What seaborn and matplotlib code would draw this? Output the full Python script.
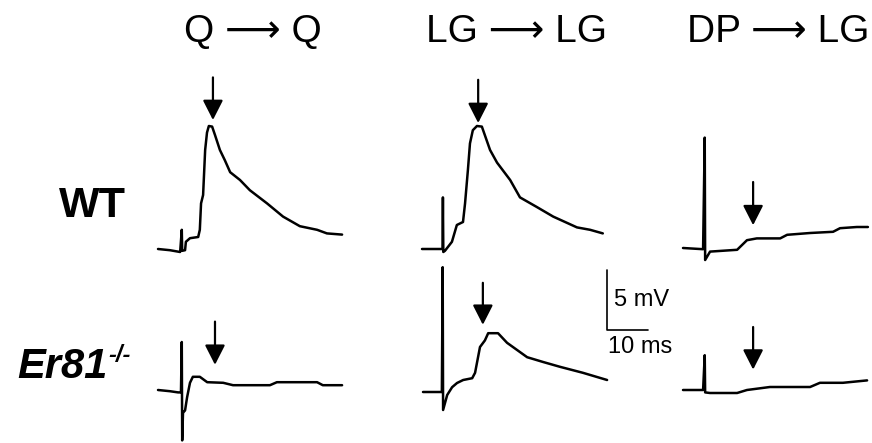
import matplotlib
matplotlib.use("Agg")
import matplotlib.pyplot as plt
import pandas as pd
import seaborn as sns

sns.set_theme(style="white")
plt.rcParams['font.family'] = ['Liberation Sans', 'DejaVu Sans']
plt.rcParams['text.color'] = 'black'

# Recorded traces: time (ms) and membrane potential (mV), relative to each trace's baseline start
qq_wt_t = [0, 2.9, 5.4, 5.8, 5.9, 6.6, 6.8, 7.8, 9.8, 10.2, 10.5, 11.0, 11.5, 11.95, 12.4, 13.2,
           13.9, 15.1, 16.3, 17.6, 20.0, 22.4, 26.6, 30.5, 34.6, 38.8, 41.2, 44.9]
qq_wt_v = [0, -0.1, -0.25, 1.6, -0.15, -0.1, 0.6, 0.9, 1.0, 1.6, 3.8, 4.5, 8.25, 9.7, 10.25, 10.2,
           9.5, 8.25, 7.4, 6.4, 5.75, 4.9, 3.8, 2.7, 1.9, 1.6, 1.3, 1.2]

qq_ko_t = [0, 2.9, 4.9, 5.6, 5.8, 5.9, 6.1, 6.6, 7.1, 7.8, 8.5, 10.2, 12.0, 15.9, 18.3, 27.3,
           29.0, 38.8, 40.2, 44.9]
qq_ko_v = [0, -0.1, -0.2, -0.2, 4.0, -4.2, -1.9, -1.7, -0.6, 0.6, 1.1, 1.1, 0.65, 0.6, 0.4, 0.4,
           0.65, 0.65, 0.4, 0.4]

lg_wt_t = [0, 5.0, 5.1, 5.2, 5.6, 7.3, 8.5, 10.0, 10.5, 11.2, 11.7, 12.4, 13.4, 14.6, 16.6, 18.3,
           21.5, 23.9, 28.0, 32.0, 37.8, 41.0, 44.1]
lg_wt_v = [0, 0, 4.3, -0.25, -0.15, 0.6, 2.0, 2.25, 3.8, 6.6, 8.8, 9.9, 10.25, 10.2, 8.25, 7.2,
           5.75, 4.3, 3.5, 2.7, 1.8, 1.6, 1.3]

lg_ko_t = [0, 4.6, 4.8, 4.9, 5.9, 7.1, 8.3, 9.8, 12.0, 12.7, 13.9, 15.1, 15.9, 18.3, 20.5, 25.4,
           29.3, 33.4, 39.0, 44.9]
lg_ko_v = [0, 0, 10.4, -1.5, -0.25, 0.4, 0.75, 1.0, 1.15, 1.6, 3.75, 4.3, 4.9, 4.9, 4.1, 2.9,
           2.5, 2.1, 1.6, 1.0]

dp_wt_t = [0, 4.9, 5.3, 5.4, 6.6, 13.2, 15.6, 18.0, 23.7, 25.4, 31.0, 36.6, 38.3, 42.4, 45.1]
dp_wt_v = [0, -0.1, 9.2, -1.0, -0.3, -0.15, 0.65, 0.8, 0.8, 1.1, 1.25, 1.35, 1.65, 1.75, 1.75]

dp_ko_t = [0, 4.9, 5.3, 5.4, 6.6, 13.2, 15.6, 21.2, 31.0, 33.4, 39.0, 44.9]
dp_ko_v = [0, 0, 2.9, -0.2, -0.25, -0.25, 0, 0.25, 0.25, 0.6, 0.6, 0.8]

# Arrow markers: time (ms), tip and tail (mV)
arrow_t = [13.4, 13.9, 13.7, 14.6, 17.1, 17.1]
arrow_tip = [10.75, 2.1, 10.5, 5.6, 1.9, 1.7]
arrow_top = [14.3, 5.7, 14.1, 9.1, 5.5, 5.25]

columns = ['Q \u27f6 Q', 'LG \u27f6 LG', 'DP \u27f6 LG']
rows = ['WT', 'Er81']
scale_mv = 5
scale_ms = 10

# Layout (pixels in the 872x443 figure)
W, H = 872, 443
PX_MS, PX_MV = 4.1, 12.0
origins = [(158, 249), (158, 390), (422, 249), (423, 392), (683, 248), (683, 390)]
traces = [(qq_wt_t, qq_wt_v), (qq_ko_t, qq_ko_v), (lg_wt_t, lg_wt_v),
          (lg_ko_t, lg_ko_v), (dp_wt_t, dp_wt_v), (dp_ko_t, dp_ko_v)]

fig = plt.figure(figsize=(W / 100, H / 100), dpi=100)
ax = fig.add_axes([0, 0, 1, 1])
ax.set_xlim(0, W / PX_MS)
ax.set_ylim(0, H / PX_MV)
ax.axis('off')

for i, ((t, v), (px, py)) in enumerate(zip(traces, origins)):
    ox, oy = px / PX_MS, (H - py) / PX_MV
    df = pd.DataFrame({'t': [x + ox for x in t], 'v': [y + oy for y in v]})
    sns.lineplot(data=df, x='t', y='v', ax=ax, color='black', lw=1.8,
                 sort=False, estimator=None, legend=False)
    ax.annotate('', xy=(arrow_t[i] + ox, arrow_tip[i] + oy),
                xytext=(arrow_t[i] + ox, arrow_top[i] + oy),
                arrowprops=dict(arrowstyle='-|>,head_length=0.55,head_width=0.28',
                                color='black', lw=1.6, shrinkA=0, shrinkB=0,
                                mutation_scale=22))

# scale bar
sx, sy = 607 / PX_MS, (H - 330) / PX_MV
ax.plot([sx, sx, sx + scale_ms], [sy + scale_mv, sy, sy], color='black', lw=1.2)
ax.text(sx + 1.6, sy + scale_mv / 2, f'{scale_mv} mV', fontsize=17, va='center', ha='left')
ax.text(sx + 0.2, sy - 1.4, f'{scale_ms} ms', fontsize=17, va='center', ha='left')

# column titles
for label, cx in zip(columns, [253, 517, 778]):
    fig.text(cx / W, 1 - 32 / H, label, fontsize=28, ha='center', va='center')

# row labels
fig.text(92 / W, 1 - 206 / H, rows[0], fontsize=31, fontweight='bold', ha='center', va='center')
ko = fig.text(17 / W, 1 - 378 / H, rows[1], fontsize=30, fontweight='bold',
              fontstyle='italic', ha='left', va='baseline')
ax.annotate('-/-', xy=(1, 1), xycoords=ko, xytext=(1, 2), textcoords='offset points',
            fontsize=17, fontweight='bold', fontstyle='italic', ha='left', va='top')

fig.savefig('out.png', dpi=100, facecolor='white')
